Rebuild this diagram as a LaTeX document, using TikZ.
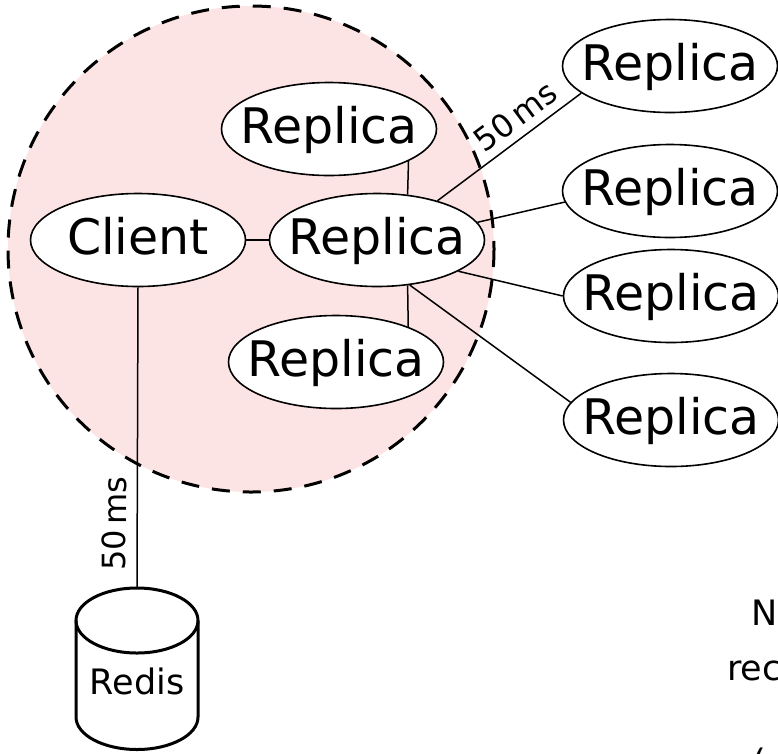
\documentclass[tikz,border=0pt]{standalone}
\usepackage{fontspec}
\setmainfont{DejaVu Sans}
\usetikzlibrary{shapes.geometric}
\definecolor{zonepink}{RGB}{253,228,228}
% centre a label in a node whose size is fixed by minimum width/height
\newcommand{\inlbl}[2]{\makebox[0pt]{\raisebox{#1}[0pt][0pt]{#2}}}
\tikzset{
  peer/.style={ellipse, draw, fill=white, line width=1.6pt,
    minimum width=215pt, minimum height=93pt, inner sep=0pt,
    font=\fontsize{49}{49}\selectfont},
  link/.style={line width=1.5pt},
  cyl/.style={line width=3pt},
  lat/.style={inner sep=0pt, font=\fontsize{32}{32}\selectfont},
  note/.style={inner sep=0pt, anchor=base west, font=\fontsize{35}{35}\selectfont}
}
\begin{document}
\begin{tikzpicture}[x=1pt, y=-1pt]
\useasboundingbox (0,0) rectangle (778,753);
\clip (0,0) rectangle (778,753);

% local zone
\fill[zonepink] (251,249) circle (243);
\draw[line width=3pt, dash pattern=on 18pt off 13pt] (251,249) circle (243);

% nodes
\node[peer] (client) at (138,240) {\inlbl{-14.5pt}{Client}};
\node[peer] (c)   at (377,240) {\inlbl{-14.5pt}{Replica}};
\node[peer] (top) at (329,129) {\inlbl{-14.5pt}{Replica}};
\node[peer] (bot) at (336,362) {\inlbl{-14.5pt}{Replica}};
\node[peer] (r1)  at (670,66)  {\inlbl{-14.5pt}{Replica}};
\node[peer] (r2)  at (670,191) {\inlbl{-14.5pt}{Replica}};
\node[peer] (r3)  at (671,296) {\inlbl{-14.5pt}{Replica}};
\node[peer] (r4)  at (671,420) {\inlbl{-14.5pt}{Replica}};

% Redis store
\node[rectangle, inner sep=0pt, minimum width=122pt, minimum height=162pt,
      font=\fontsize{35}{35}\selectfont] (redis) at (137,669) {\inlbl{-25pt}{Redis}};
\draw[cyl] (76,620.5) -- (76,717)
  arc[start angle=180, end angle=0, x radius=61, y radius=32.5] -- (198,620.5);
\draw[cyl] (137,620.5) ellipse [x radius=61, y radius=32.5];

% connectors
\draw[link] (client.east) -- (c.west);
\draw[link] (c.56) -- (top.338);
\draw[link] (c.304) -- (bot.26);
\draw[link] (c.33) -- node[lat, pos=0.63, sloped, above=8pt] {50\,ms} (r1.197.5);
\draw[link] (c.10) -- (r2.186);
\draw[link] (c.339) -- (r3.180);
\draw[link] (c.306.5) -- (r4.170);
\draw[link] (redis.north) -- node[lat, pos=0.213, sloped, above=10pt] {50\,ms} (client.south);

% note text at the right edge
\node[note] (n1) at (751,625) {N};
\node[note] (n2) at (727,680) {rec};
\node[note] (n3) at (752,774) {(};
\end{tikzpicture}
\end{document}
